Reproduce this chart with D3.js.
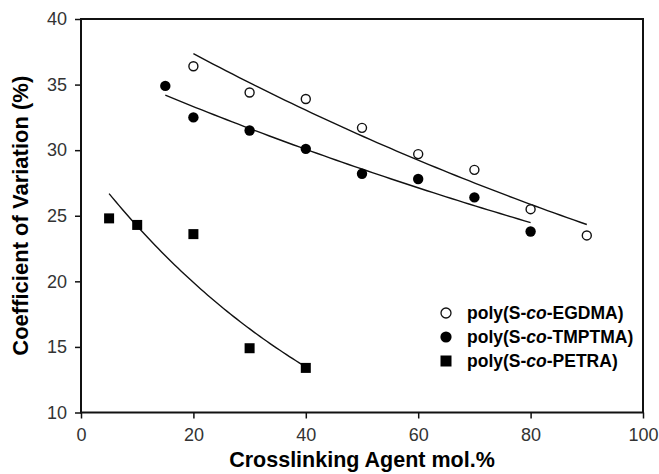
<!DOCTYPE html>
<html>
<head>
<meta charset="utf-8">
<script src="https://cdn.jsdelivr.net/npm/d3@7"></script>
<style>
  body { margin: 0; background: #fff; }
  text { font-family: "Liberation Sans", Arial, sans-serif; }
</style>
</head>
<body>
<div class="chart"></div>
<script>
// crosslinker content (mol.%) and coefficient of variation (%)
var egdmaX = [20, 30, 40, 50, 60, 70, 80, 90];
var egdmaY = [36.4, 34.4, 33.9, 31.7, 29.7, 28.5, 25.5, 23.5];
var tmptmaX = [15, 20, 30, 40, 50, 60, 70, 80];
var tmptmaY = [34.9, 32.5, 31.5, 30.1, 28.2, 27.8, 26.4, 23.8];
var petraX = [5, 10, 20, 30, 40];
var petraY = [24.8, 24.3, 23.6, 14.9, 13.4];

var xTicks = [0, 20, 40, 60, 80, 100];
var yTicks = [10, 15, 20, 25, 30, 35, 40];
var seriesNames = ["EGDMA", "TMPTMA", "PETRA"];

var width = 659, height = 474;
var margin = {top: 19, right: 16, bottom: 61.5, left: 81};

var svg = d3.select(".chart")
        .append("svg")
        .attr("width", width)
        .attr("height", height);

var x = d3.scaleLinear().domain([0, 100]).range([margin.left, width - margin.right]);
var y = d3.scaleLinear().domain([10, 40]).range([height - margin.bottom, margin.top]);

// exponential trend line  y = a*exp(b*x), least squares on ln(y)
function expFit(xs, ys) {
  var lys = ys.map(function(v) { return Math.log(v); });
  var mx = d3.mean(xs), my = d3.mean(lys);
  var sxx = 0, sxy = 0;
  xs.forEach(function(v, i) {
    sxx += (v - mx) * (v - mx);
    sxy += (v - mx) * (lys[i] - my);
  });
  var b = sxy / sxx;
  var a = my - b * mx;
  var lo = d3.min(xs), hi = d3.max(xs);
  var pts = d3.range(lo, hi + 0.001, (hi - lo) / 60).map(function(t) {
    return [t, Math.exp(a + b * t)];
  });
  return pts;
}

var line = d3.line()
        .x(function(d) { return x(d[0]); })
        .y(function(d) { return y(d[1]); });

// axes
var yAxis = svg.append("g")
        .attr("transform", "translate(" + margin.left + ",0)")
        .call(d3.axisLeft(y).tickValues(yTicks).tickSize(6).tickPadding(8).tickSizeOuter(0));
var xAxis = svg.append("g")
        .attr("transform", "translate(0," + (height - margin.bottom) + ")")
        .call(d3.axisBottom(x).tickValues(xTicks).tickSize(6).tickPadding(10).tickSizeOuter(0));

[xAxis, yAxis].forEach(function(g) {
  g.select(".domain").remove();
  g.selectAll("line").attr("stroke", "#111").attr("stroke-width", 1.5);
  g.selectAll("text")
   .attr("fill", "#333")
   .style("font-size", "18px")
   .style("font-family", "'Liberation Sans', Arial, sans-serif");
});

// frame
svg.append("rect")
        .attr("x", x(0))
        .attr("y", y(40))
        .attr("width", x(100) - x(0))
        .attr("height", y(10) - y(40))
        .attr("fill", "none")
        .attr("stroke", "#111")
        .attr("stroke-width", 2);

// trend lines
[[egdmaX, egdmaY], [tmptmaX, tmptmaY], [petraX, petraY]].forEach(function(s) {
  svg.append("path")
          .datum(expFit(s[0], s[1]))
          .attr("d", line)
          .attr("fill", "none")
          .attr("stroke", "#111")
          .attr("stroke-width", 1.4);
});

// markers
svg.append("g").selectAll("circle")
        .data(egdmaX)
        .enter()
        .append("circle")
        .attr("cx", function(d) { return x(d); })
        .attr("cy", function(d, i) { return y(egdmaY[i]); })
        .attr("r", 4.5)
        .attr("fill", "#fff")
        .attr("stroke", "#111")
        .attr("stroke-width", 1.4);

svg.append("g").selectAll("circle")
        .data(tmptmaX)
        .enter()
        .append("circle")
        .attr("cx", function(d) { return x(d); })
        .attr("cy", function(d, i) { return y(tmptmaY[i]); })
        .attr("r", 5.2)
        .attr("fill", "#000");

svg.append("g").selectAll("rect")
        .data(petraX)
        .enter()
        .append("rect")
        .attr("x", function(d) { return x(d) - 5; })
        .attr("y", function(d, i) { return y(petraY[i]) - 5; })
        .attr("width", 10)
        .attr("height", 10)
        .attr("fill", "#000");

// axis titles
svg.append("text")
        .attr("x", (x(0) + x(100)) / 2)
        .attr("y", 467)
        .attr("text-anchor", "middle")
        .style("font-size", "21.5px")
        .style("font-weight", "bold")
        .text("Crosslinking Agent mol.%");

svg.append("text")
        .attr("transform", "translate(28," + ((y(10) + y(40)) / 2) + ") rotate(-90)")
        .attr("text-anchor", "middle")
        .style("font-size", "22px")
        .style("font-weight", "bold")
        .text("Coefficient of Variation (%)");

// legend
var legend = svg.append("g").attr("transform", "translate(446,313)");
seriesNames.forEach(function(name, i) {
  var row = legend.append("g").attr("transform", "translate(0," + (i * 24) + ")");
  if (i == 0) {
    row.append("circle").attr("r", 5).attr("fill", "#fff").attr("stroke", "#111").attr("stroke-width", 1.3);
  } else if (i == 1) {
    row.append("circle").attr("r", 5.6).attr("fill", "#000");
  } else {
    row.append("rect").attr("x", -5.5).attr("y", -5.5).attr("width", 11).attr("height", 11).attr("fill", "#000");
  }
  var t = row.append("text")
          .attr("x", 21)
          .attr("dy", "0.36em")
          .style("font-size", "17.5px")
          .style("font-weight", "bold");
  t.append("tspan").text("poly(S-");
  t.append("tspan").style("font-style", "italic").text("co");
  t.append("tspan").text("-" + name + ")");
});
</script>
</body>
</html>
